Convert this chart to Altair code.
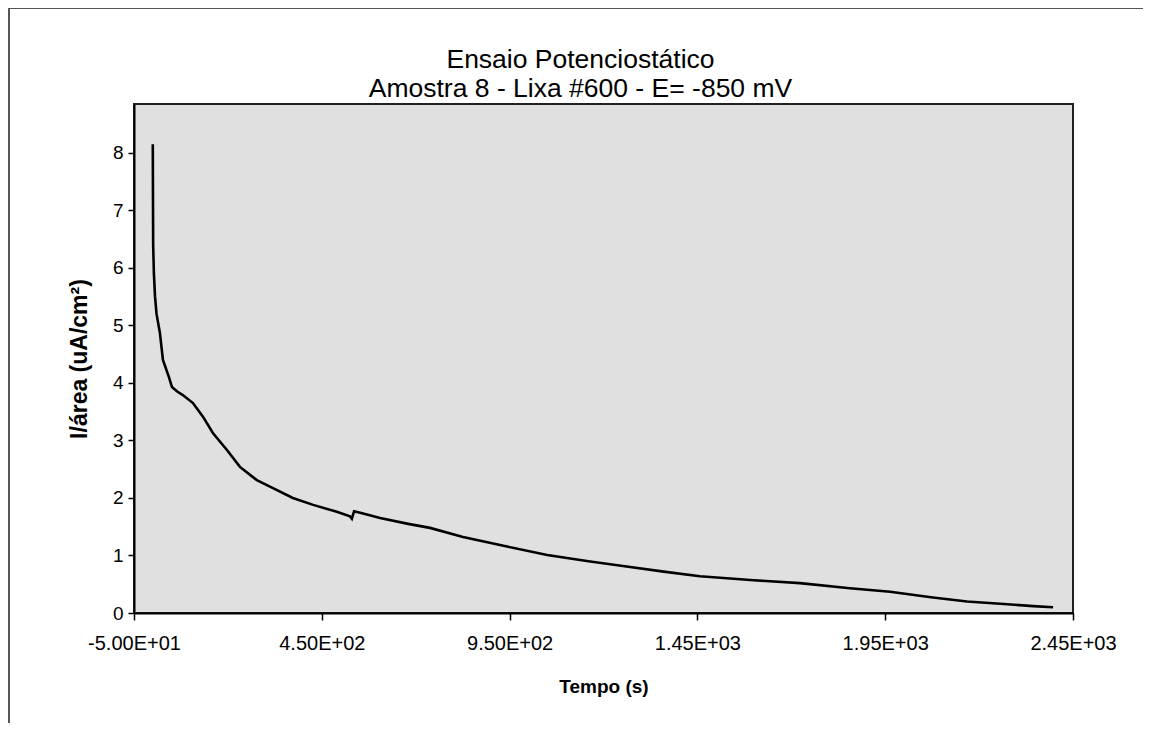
import altair as alt
import pandas as pd

# Data
tempo = [0, 1, 3, 6, 10, 19, 27, 43, 51, 65, 80, 107, 134, 160, 198, 232, 277,
         320, 373, 427, 490, 525, 530, 536, 560, 605, 680, 738, 826, 940, 1050,
         1160, 1271, 1360, 1457, 1600, 1723, 1856, 1963, 2077, 2168, 2256, 2344, 2397]
corrente = [8.15, 6.4, 5.9, 5.5, 5.2, 4.87, 4.4, 4.1, 3.93, 3.85, 3.79, 3.65, 3.41,
            3.13, 2.83, 2.54, 2.31, 2.17, 2.0, 1.88, 1.76, 1.68, 1.64, 1.77, 1.73,
            1.65, 1.55, 1.48, 1.32, 1.16, 1.01, 0.9, 0.8, 0.72, 0.64, 0.57, 0.52,
            0.43, 0.37, 0.27, 0.2, 0.16, 0.12, 0.10]
x_ticks = [-50, 450, 950, 1450, 1950, 2450]
y_ticks = [0, 1, 2, 3, 4, 5, 6, 7, 8]

title_lines = ["Ensaio Potenciostático", "Amostra 8 - Lixa #600 - E= -850 mV"]
x_title = "Tempo (s)"
y_title = "I/área (uA/cm²)"

df = pd.DataFrame({"Tempo": tempo, "I": corrente})

FONT = "Liberation Sans"

x_label_expr = "replace(replace(format(datum.value, '.2e'), '\u2212', '-'), 'e+', 'E+0')"

line = alt.Chart(df).mark_line(color="black", strokeWidth=2.6, clip=True).encode(
    x=alt.X(
        "Tempo:Q",
        scale=alt.Scale(domain=[-50, 2450], nice=False, zero=False),
        axis=alt.Axis(
            values=x_ticks, title=x_title, labelExpr=x_label_expr,
            labelFont=FONT, labelFontSize=20, labelColor="black",
            titleFont=FONT, titleFontSize=19, titleFontWeight="bold", titleColor="black",
            tickSize=7, tickColor="black", tickWidth=1.5, labelPadding=13,
            titlePadding=24, domainColor="black", domainWidth=2, grid=False,
            labelFlush=False,
        ),
    ),
    y=alt.Y(
        "I:Q",
        scale=alt.Scale(domain=[0, 8.85], nice=False),
        axis=alt.Axis(
            values=y_ticks, title=y_title, format="d",
            labelFont=FONT, labelFontSize=19, labelColor="black",
            titleFont=FONT, titleFontSize=23, titleFontWeight="bold", titleColor="black",
            tickSize=6, tickColor="black", tickWidth=1.5, labelPadding=5,
            titlePadding=21, domainColor="black", domainWidth=2, grid=False,
            labelFlush=False,
        ),
    ),
)

frame = alt.Chart(alt.Data(values=[{"k": 1}])).mark_rect(
    fillOpacity=0, stroke="#555555", strokeWidth=2, clip=False
).encode(
    x=alt.value(-125), x2=alt.value(1040),
    y=alt.value(-96), y2=alt.value(720),
)

chart = alt.layer(frame, line).properties(
    width=939,
    height=509,
    autosize="none",
    padding={"left": 126, "top": 96, "right": 70, "bottom": 110},
    title=alt.TitleParams(
        text=title_lines, font=FONT, fontSize=26.5, fontWeight="normal",
        color="black", anchor="middle", frame="group", dx=-23, offset=3,
        dy=98, lineHeight=29,
    ),
).configure(
    background="white"
).configure_view(
    fill="#e0e0e0", stroke="#222222", strokeWidth=2
)

chart.save("out.html", embed_options={"renderer": "svg", "actions": False})
